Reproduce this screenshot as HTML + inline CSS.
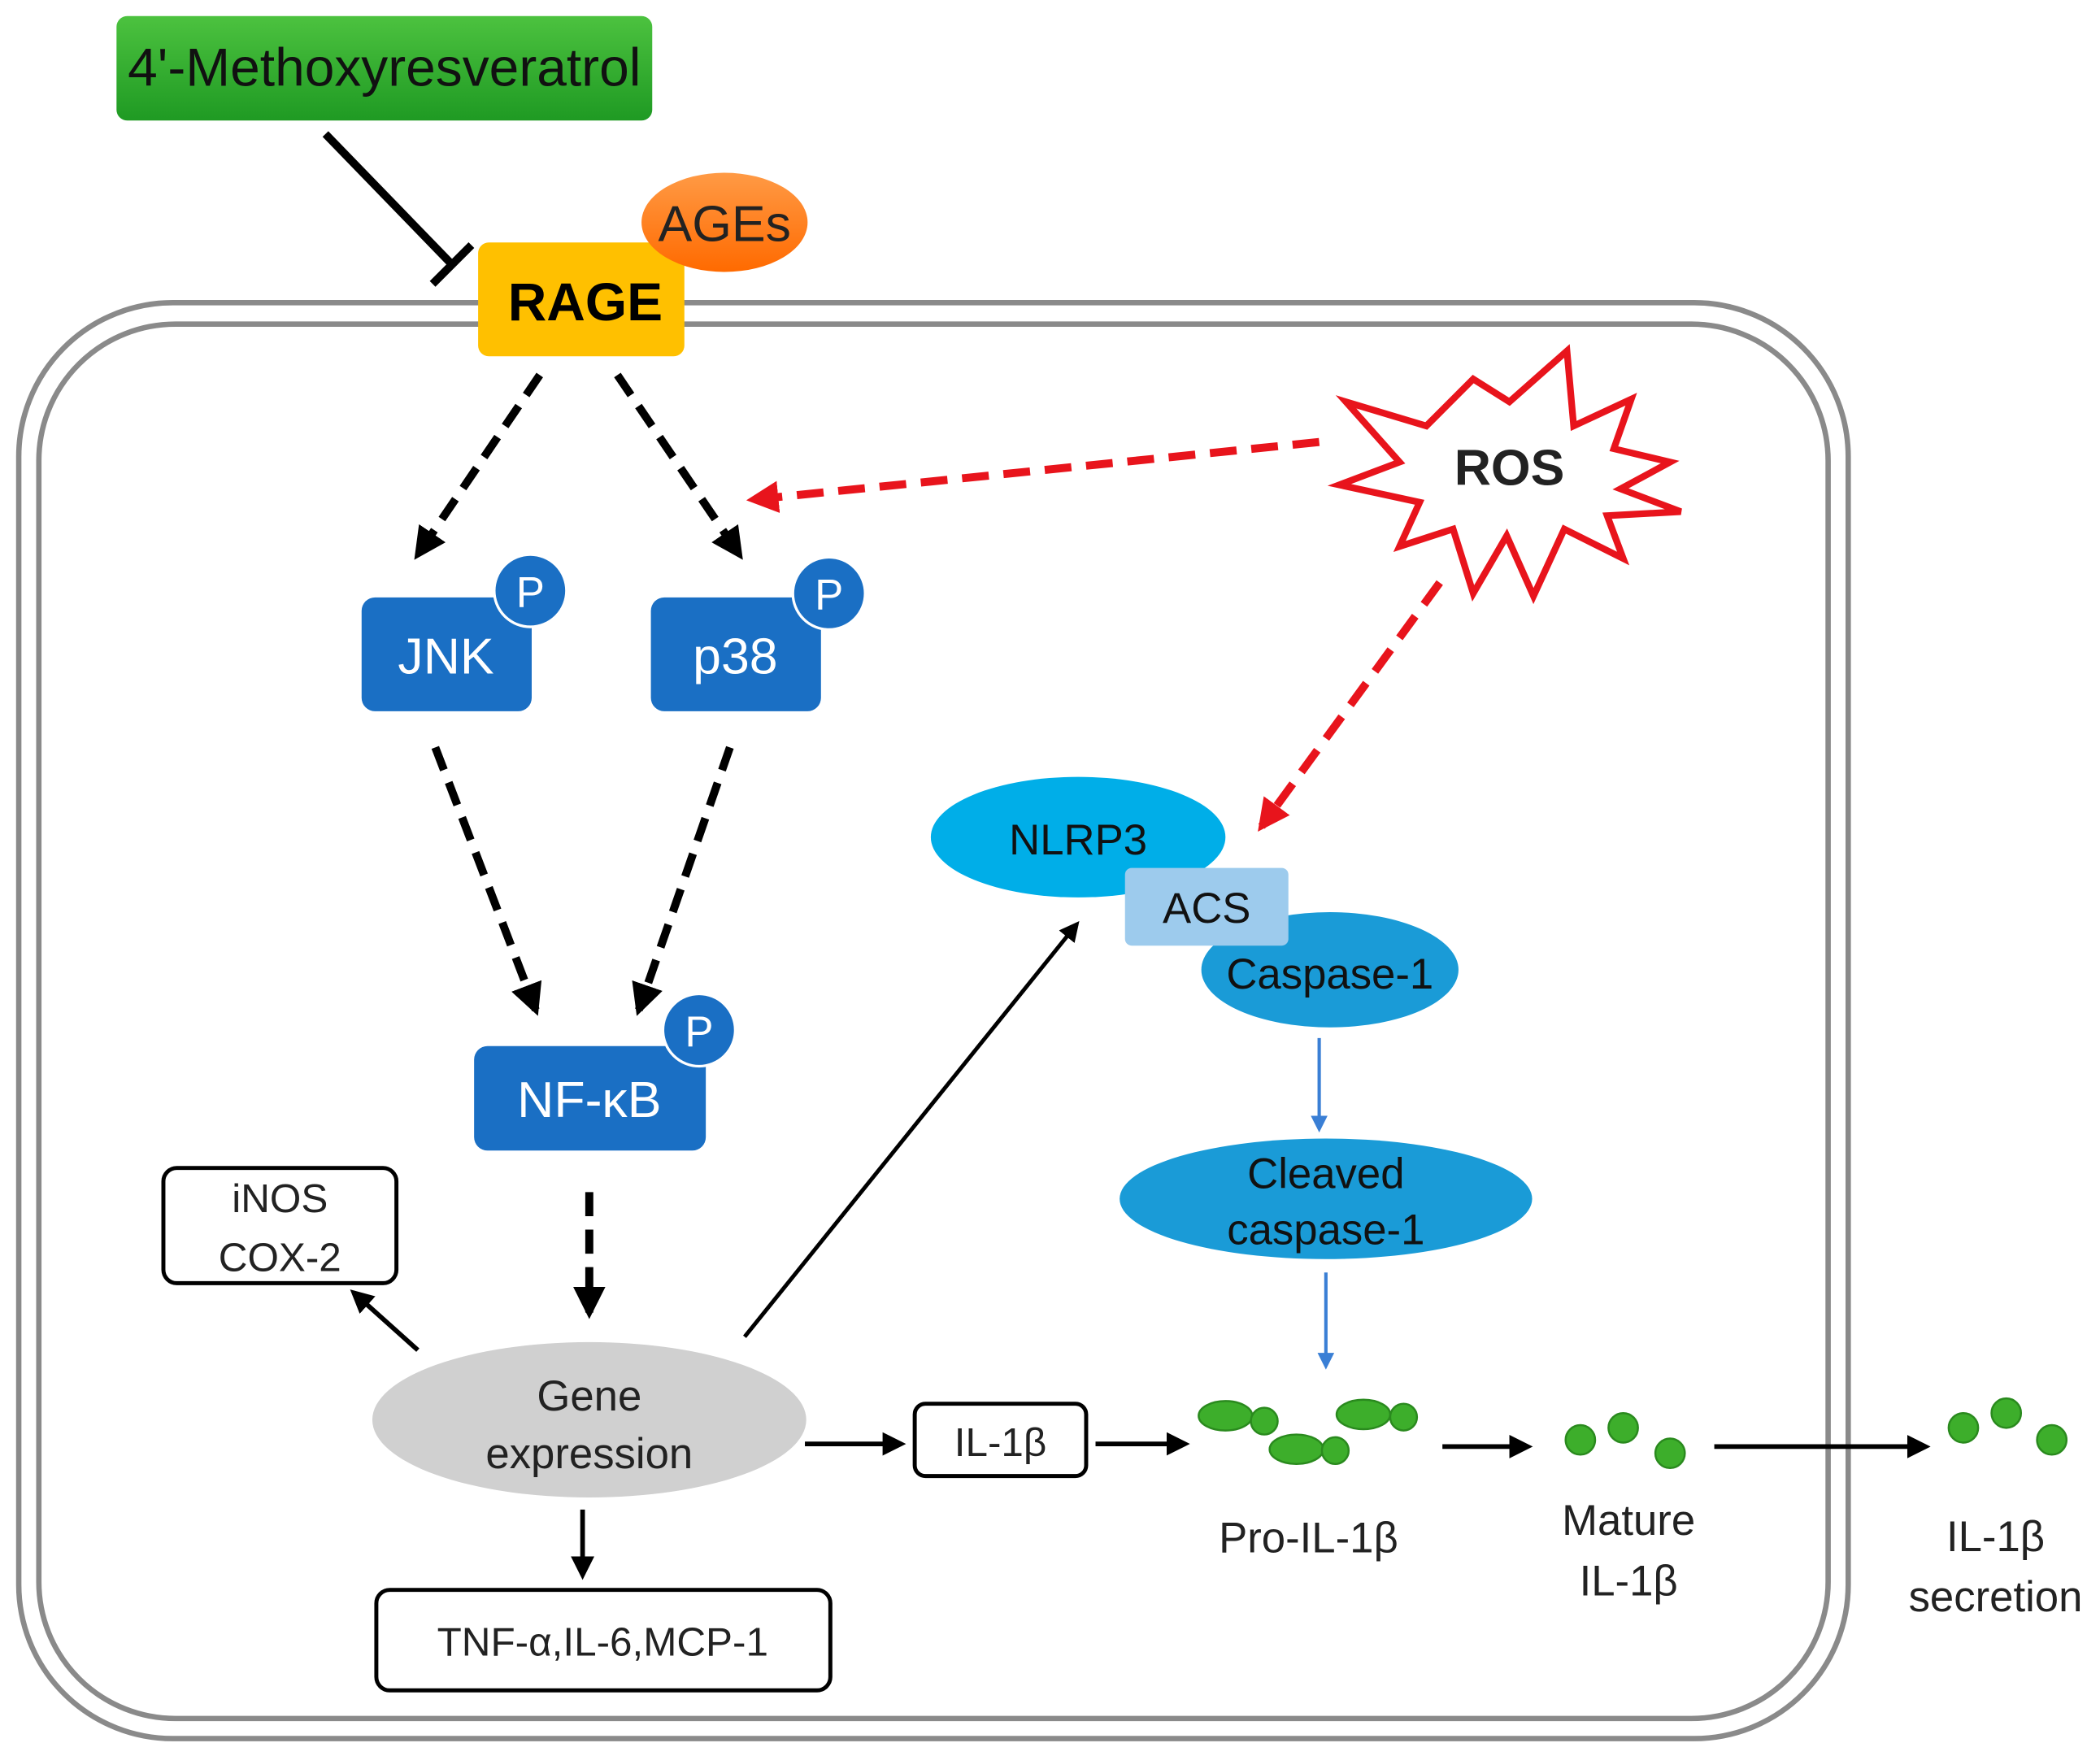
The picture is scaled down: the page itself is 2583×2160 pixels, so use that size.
<!DOCTYPE html>
<html><head><meta charset="utf-8"><style>html,body{margin:0;padding:0;background:#fff}svg{display:block}</style></head>
<body>
<svg width="2583" height="2160" viewBox="0 0 1568 1311" preserveAspectRatio="none" xmlns="http://www.w3.org/2000/svg" font-family="Liberation Sans, Arial, sans-serif">
<defs>
<linearGradient id="gg" x1="0" y1="0" x2="0" y2="1"><stop offset="0" stop-color="#4cc23f"/><stop offset="1" stop-color="#1f9a23"/></linearGradient>
<linearGradient id="og" x1="0" y1="0" x2="0" y2="1"><stop offset="0" stop-color="#ff9a45"/><stop offset="1" stop-color="#ff6a00"/></linearGradient>
<marker id="ab" viewBox="0 0 10 10" refX="8" refY="5" markerWidth="4" markerHeight="4" orient="auto"><path d="M0,0L10,5L0,10z" fill="#000"/></marker>
<marker id="ar" viewBox="0 0 10 10" refX="8" refY="5" markerWidth="4" markerHeight="4" orient="auto"><path d="M0,0L10,5L0,10z" fill="#e8141c"/></marker>
<marker id="at" viewBox="0 0 10 10" refX="8" refY="5" markerWidth="5" markerHeight="5" orient="auto"><path d="M0,0L10,5L0,10z" fill="#000"/></marker>
<marker id="abl" viewBox="0 0 10 10" refX="8" refY="5" markerWidth="5" markerHeight="5" orient="auto"><path d="M0,0L10,5L0,10z" fill="#3a7fd5"/></marker>
</defs>
<!-- cell -->
<rect x="14" y="226" width="1366" height="1072" rx="115" fill="none" stroke="#8a8a8a" stroke-width="4"/>
<rect x="29" y="242" width="1336" height="1041" rx="102" fill="none" stroke="#8a8a8a" stroke-width="4"/>
<!-- drug -->
<rect x="87" y="12" width="400" height="78" rx="8" fill="url(#gg)"/>
<text x="287" y="64" font-size="40" text-anchor="middle" fill="#111">4'-Methoxyresveratrol</text>
<line x1="243" y1="100" x2="337" y2="197" stroke="#000" stroke-width="6"/>
<line x1="323" y1="212" x2="352" y2="183" stroke="#000" stroke-width="6"/>
<!-- RAGE / AGEs -->
<rect x="357" y="181" width="154" height="85" rx="8" fill="#ffc000"/>
<ellipse cx="541" cy="166" rx="62" ry="37" fill="url(#og)"/>
<text x="541" y="180" font-size="38" text-anchor="middle" fill="#222">AGEs</text>
<text x="437" y="239" font-size="40" font-weight="bold" text-anchor="middle" fill="#000">RAGE</text>
<!-- dashed arrows -->
<g stroke="#000" stroke-width="6" stroke-dasharray="18 10" fill="none">
<line x1="403" y1="280" x2="312" y2="414" marker-end="url(#ab)"/>
<line x1="461" y1="280" x2="552" y2="414" marker-end="url(#ab)"/>
<line x1="325" y1="558" x2="400" y2="754" marker-end="url(#ab)"/>
<line x1="545" y1="558" x2="477" y2="754" marker-end="url(#ab)"/>
<line x1="440" y1="890" x2="440" y2="980" marker-end="url(#ab)"/>
</g>
<g stroke="#e8141c" stroke-width="6" stroke-dasharray="20 11" fill="none">
<line x1="985" y1="330" x2="562" y2="373" marker-end="url(#ar)"/>
<line x1="1075" y1="435" x2="942" y2="617" marker-end="url(#ar)"/>
</g>
<!-- ROS -->
<polygon points="1127,300 1170,262 1175,318 1218,298 1205,335 1247,345 1210,365 1255,382 1200,385 1212,417 1168,395 1145,445 1125,400 1100,443 1085,395 1045,408 1060,375 1000,362 1045,345 1005,300 1065,318 1100,283" fill="#fff" stroke="#e8141c" stroke-width="5" stroke-linejoin="miter"/>
<text x="1127" y="362" font-size="38" font-weight="bold" text-anchor="middle" fill="#222">ROS</text>
<!-- JNK p38 NF-kB -->
<g fill="#1a6fc4">
<rect x="270" y="446" width="127" height="85" rx="10"/>
<rect x="486" y="446" width="127" height="85" rx="10"/>
<rect x="354" y="781" width="173" height="78" rx="10"/>
</g>
<g fill="#1a6fc4" stroke="#fff" stroke-width="2">
<circle cx="396" cy="441" r="27"/><circle cx="619" cy="443" r="27"/><circle cx="522" cy="769" r="27"/>
</g>
<g fill="#fff" font-size="38" text-anchor="middle">
<text x="333" y="503">JNK</text><text x="549" y="503">p38</text><text x="440" y="834">NF-κB</text>
</g>
<g fill="#fff" font-size="32" text-anchor="middle">
<text x="396" y="453">P</text><text x="619" y="455">P</text><text x="522" y="781">P</text>
</g>
<!-- gene expression -->
<ellipse cx="440" cy="1060" rx="162" ry="58" fill="#d0d0d0"/>
<text x="440" y="1053" font-size="32" text-anchor="middle" fill="#222">Gene</text>
<text x="440" y="1096" font-size="32" text-anchor="middle" fill="#222">expression</text>
<rect x="122" y="872" width="174" height="86" rx="10" fill="#fff" stroke="#000" stroke-width="3"/>
<text x="209" y="905" font-size="30" text-anchor="middle" fill="#222">iNOS</text>
<text x="209" y="949" font-size="30" text-anchor="middle" fill="#222">COX-2</text>
<rect x="281" y="1187" width="339" height="75" rx="10" fill="#fff" stroke="#000" stroke-width="3"/>
<text x="450" y="1236" font-size="30" text-anchor="middle" fill="#222">TNF-α,IL-6,MCP-1</text>
<g stroke="#000" stroke-width="3.5" fill="none">
<line x1="312" y1="1008" x2="264" y2="965" marker-end="url(#at)"/>
<line x1="435" y1="1127" x2="435" y2="1176" marker-end="url(#at)"/>
<line x1="556" y1="998" x2="804" y2="690" stroke-width="3" marker-end="url(#at)"/>
<line x1="601" y1="1078" x2="673" y2="1078" marker-end="url(#at)"/>
<line x1="818" y1="1078" x2="885" y2="1078" marker-end="url(#at)"/>
<line x1="1077" y1="1080" x2="1141" y2="1080" marker-end="url(#at)"/>
<line x1="1280" y1="1080" x2="1438" y2="1080" marker-end="url(#at)"/>
</g>
<!-- inflammasome -->
<ellipse cx="805" cy="625" rx="110" ry="45" fill="#00aee8"/>
<ellipse cx="993" cy="724" rx="96" ry="43" fill="#1a9bd7"/>
<rect x="840" y="648" width="122" height="58" rx="5" fill="#9dcbed"/>
<text x="805" y="638" font-size="32" text-anchor="middle" fill="#111">NLRP3</text>
<text x="901" y="689" font-size="32" text-anchor="middle" fill="#111">ACS</text>
<text x="993" y="738" font-size="32" text-anchor="middle" fill="#111">Caspase-1</text>
<line x1="985" y1="775" x2="985" y2="843" stroke="#3a7fd5" stroke-width="2.5" marker-end="url(#abl)"/>
<ellipse cx="990" cy="895" rx="154" ry="45" fill="#1a9bd7"/>
<text x="990" y="887" font-size="32" text-anchor="middle" fill="#111">Cleaved</text>
<text x="990" y="929" font-size="32" text-anchor="middle" fill="#111">caspase-1</text>
<line x1="990" y1="950" x2="990" y2="1020" stroke="#3a7fd5" stroke-width="2.5" marker-end="url(#abl)"/>
<!-- IL-1b -->
<rect x="683" y="1048" width="128" height="54" rx="8" fill="#fff" stroke="#000" stroke-width="3"/>
<text x="747" y="1087" font-size="30" text-anchor="middle" fill="#222">IL-1β</text>
<g fill="#3dae2b" stroke="#2a8a1e" stroke-width="1.5">
<ellipse cx="915" cy="1057" rx="20" ry="11"/><circle cx="944" cy="1061" r="10"/>
<ellipse cx="1018" cy="1056" rx="20" ry="11"/><circle cx="1048" cy="1058" r="10"/>
<ellipse cx="968" cy="1082" rx="20" ry="11"/><circle cx="997" cy="1083" r="10"/>
<circle cx="1180" cy="1075" r="11"/><circle cx="1212" cy="1066" r="11"/><circle cx="1247" cy="1085" r="11"/>
<circle cx="1466" cy="1066" r="11"/><circle cx="1498" cy="1055" r="11"/><circle cx="1532" cy="1075" r="11"/>
</g>
<g font-size="32" text-anchor="middle" fill="#222">
<text x="977" y="1159">Pro-IL-1β</text>
<text x="1216" y="1146">Mature</text><text x="1216" y="1191">IL-1β</text>
<text x="1490" y="1158">IL-1β</text><text x="1490" y="1203">secretion</text>
</g>
</svg>
</body></html>
